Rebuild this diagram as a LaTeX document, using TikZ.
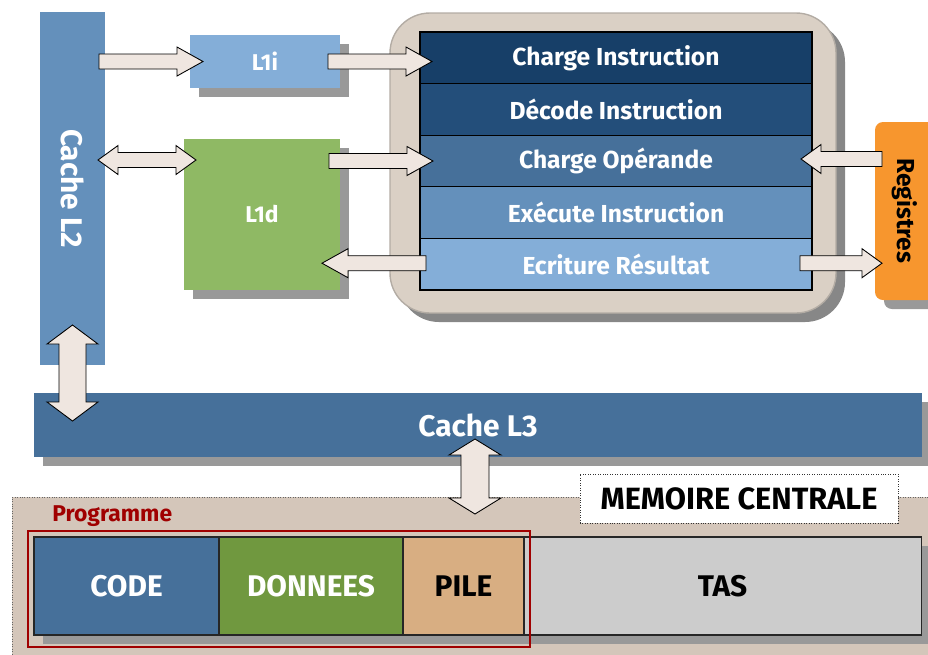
\documentclass[tikz,border=0pt]{standalone}
\usepackage{fontspec}
\setmainfont{Fira Sans}
\usetikzlibrary{positioning,calc,shadows}

\definecolor{stageA}{HTML}{173F68}
\definecolor{stageB}{HTML}{234E7A}
\definecolor{stageC}{HTML}{46709A}
\definecolor{stageD}{HTML}{6490BB}
\definecolor{stageE}{HTML}{84AED8}
\definecolor{greenL1}{HTML}{8FB964}
\definecolor{regorange}{HTML}{F7962E}
\definecolor{arrowfill}{HTML}{EFE6E0}
\definecolor{cpufill}{HTML}{DAD0C5}
\definecolor{cpuline}{HTML}{B3ACA4}
\definecolor{memfill}{HTML}{D4C6BA}
\definecolor{codeblue}{HTML}{46709A}
\definecolor{dataGreen}{HTML}{70983F}
\definecolor{pileTan}{HTML}{D8AE82}
\definecolor{tasGray}{HTML}{CCCCCC}
\definecolor{progred}{HTML}{A00000}

\tikzset{
  blk/.style={inner sep=0pt, outer sep=0pt, text=white, font=\bfseries},
  shadowed/.style={drop shadow={shadow xshift=1.8mm, shadow yshift=-1.8mm,
      fill=black!40, opacity=1}},
  stage/.style={blk, draw=black, line width=0.6pt, minimum width=78.4mm,
      minimum height=10.32mm, font=\bfseries\fontsize{14}{16}\selectfont},
  cell/.style={blk, shadowed, draw=black!85, line width=0.6pt,
      minimum height=19.6mm, font=\bfseries\fontsize{17}{20}\selectfont},
  fatarrow/.style={fill=arrowfill, draw=black, line width=0.5pt, line join=miter}
}

% block arrow: from, to, shaft half width, head half width, head length
\newcommand{\onearrow}[5]{%
  \coordinate (hb) at ($(#2)!#5!(#1)$);
  \draw[fatarrow] ($(#1)!#3!90:(#2)$) -- ($(hb)!#3!90:(#2)$) -- ($(hb)!#4!90:(#2)$)
    -- (#2) -- ($(hb)!#4!-90:(#2)$) -- ($(hb)!#3!-90:(#2)$) -- ($(#1)!#3!-90:(#2)$) -- cycle;}
\newcommand{\twoarrow}[5]{%
  \coordinate (ha) at ($(#1)!#5!(#2)$);
  \coordinate (hb) at ($(#2)!#5!(#1)$);
  \draw[fatarrow] (#1) -- ($(ha)!#4!90:(#2)$) -- ($(ha)!#3!90:(#2)$) -- ($(hb)!#3!90:(#2)$)
    -- ($(hb)!#4!90:(#2)$) -- (#2) -- ($(hb)!#4!-90:(#2)$) -- ($(hb)!#3!-90:(#2)$)
    -- ($(ha)!#3!-90:(#2)$) -- ($(ha)!#4!-90:(#2)$) -- cycle;}

\begin{document}
\begin{tikzpicture}[x=0.2mm, y=-0.2mm]
    \useasboundingbox (0,0) rectangle (928,654);
    \clip (0,0) rectangle (928,654);

    % ================= CACHES (Left) =================
    \node[blk, fill=stageD, minimum width=13mm, minimum height=70.6mm,
          font=\bfseries\fontsize{17}{20}\selectfont] (L2) at (72.5,188.5) {\rotatebox{-90}{Cache L2}};
    \node[blk, shadowed, fill=stageE, minimum width=30mm, minimum height=10.6mm,
          font=\bfseries\fontsize{13}{15}\selectfont] (L1i) at (265,61.5) {L1i};
    \node[blk, shadowed, fill=greenL1, minimum width=31.2mm, minimum height=30.2mm,
          font=\bfseries\fontsize{13}{15}\selectfont] (L1d) at (262,214.5) {L1d};

    % ================= PIPELINE (CPU) =================
    \node[draw=cpuline, line width=0.8pt, fill=cpufill, rounded corners=8mm,
          minimum width=89.2mm, minimum height=60mm,
          drop shadow={shadow xshift=1.8mm, shadow yshift=-1.8mm, fill=black!47, opacity=1}]
          (cpu) at (613,163) {};
    \foreach \i/\txt/\col in {1/Charge Instruction/stageA, 2/Décode Instruction/stageB,
        3/Charge Opérande/stageC, 4/Exécute Instruction/stageD, 5/Ecriture Résultat/stageE}
        \node[stage, fill=\col] (s\i) at (616, {6.2+51.6*\i}) {\txt};

    % Registres
    \node[blk, shadowed, fill=regorange, rounded corners=1.6mm, minimum width=12mm,
          minimum height=35.6mm, text=black, font=\bfseries\fontsize{14}{16}\selectfont]
          (reg) at (905,211) {\rotatebox{-90}{Registres}};

    % ================= CACHE L3 =================
    \node[blk, shadowed, fill=stageC, minimum width=177.6mm, minimum height=12.8mm,
          font=\bfseries\fontsize{17}{20}\selectfont] (L3) at (478,425) {Cache L3};

    % ================= MEMOIRE CENTRALE =================
    \node[draw=black!60, densely dotted, fill=memfill, minimum width=186mm,
          minimum height=34.6mm, inner sep=0pt, outer sep=0pt] (mem) at (477,583.5) {};
    \node[draw=black!80, densely dotted, fill=white, minimum width=63.6mm, minimum height=9.8mm,
          font=\bfseries\fontsize{17.5}{20}\selectfont] (memlabel) at (739,498.5) {MEMOIRE CENTRALE};

    \node[blk, cell, fill=codeblue, minimum width=37mm, anchor=west] (code) at (34,586) {CODE};
    \node[blk, cell, fill=dataGreen, minimum width=36.8mm, right=0pt of code] (data) {DONNEES};
    \node[blk, cell, fill=pileTan, minimum width=24.2mm, text=black, right=0pt of data] (pile) {PILE};
    \node[blk, cell, fill=tasGray, minimum width=79.4mm, text=black, right=0pt of pile] (tas) {TAS};

    % Programme frame
    \draw[progred, line width=1.3pt] ($(code.north west)+(-6,-6)$) rectangle ($(pile.south east)+(6,12)$);
    \node[text=progred, font=\bfseries\fontsize{13}{15}\selectfont, anchor=west, inner sep=0pt]
          (progtxt) at (52,516) {Programme};

    % ================= ARROWS =================
    \coordinate (a1s) at ($(L2.east |- L1i)+(-6,0)$);
    \coordinate (a1e) at ($(L1i.west)+(13,0)$);
    \onearrow{a1s}{a1e}{1.5mm}{2.9mm}{5.2mm}

    \coordinate (a2s) at ($(L1i.east)+(-12,0)$);
    \coordinate (a2e) at ($(L1i.east -| s1.west)+(12,0)$);
    \onearrow{a2s}{a2e}{1.5mm}{2.9mm}{5.2mm}

    \coordinate (a3e) at ($(L1d.north west)+(12,21)$);
    \coordinate (a3s) at ($(L2.east |- a3e)+(-7,0)$);
    \twoarrow{a3s}{a3e}{1.5mm}{2.9mm}{4mm}

    \coordinate (a4s) at ($(L1d.east |- s3)+(-11,0)$);
    \coordinate (a4e) at ($(s3.west)+(13,0)$);
    \onearrow{a4s}{a4e}{1.5mm}{2.9mm}{5.2mm}

    \coordinate (a5s) at ($(s5.west)+(6,-1)$);
    \coordinate (a5e) at ($(L1d.east |- a5s)+(-18,0)$);
    \onearrow{a5s}{a5e}{1.5mm}{2.9mm}{5.2mm}

    \coordinate (a6s) at ($(reg.west |- s3)+(7,-2)$);
    \coordinate (a6e) at ($(s3.east)+(-11,-2)$);
    \onearrow{a6s}{a6e}{1.5mm}{2.9mm}{4mm}

    \coordinate (a7s) at ($(s5.east)+(-12,-1)$);
    \coordinate (a7e) at ($(reg.west |- a7s)+(7,0)$);
    \onearrow{a7s}{a7e}{1.5mm}{2.9mm}{4mm}

    \coordinate (a8s) at ($(L2.south)+(0,-40)$);
    \coordinate (a8e) at ($(L3.north -| L2.south)+(0,28)$);
    \twoarrow{a8s}{a8e}{2.7mm}{5.1mm}{3.8mm}

    \coordinate (a9s) at ($(L3.south)+(-3,-18)$);
    \coordinate (a9e) at ($(mem.north -| a9s)+(0,17)$);
    \twoarrow{a9s}{a9e}{2.8mm}{5.2mm}{3.2mm}

\end{tikzpicture}
\end{document}
